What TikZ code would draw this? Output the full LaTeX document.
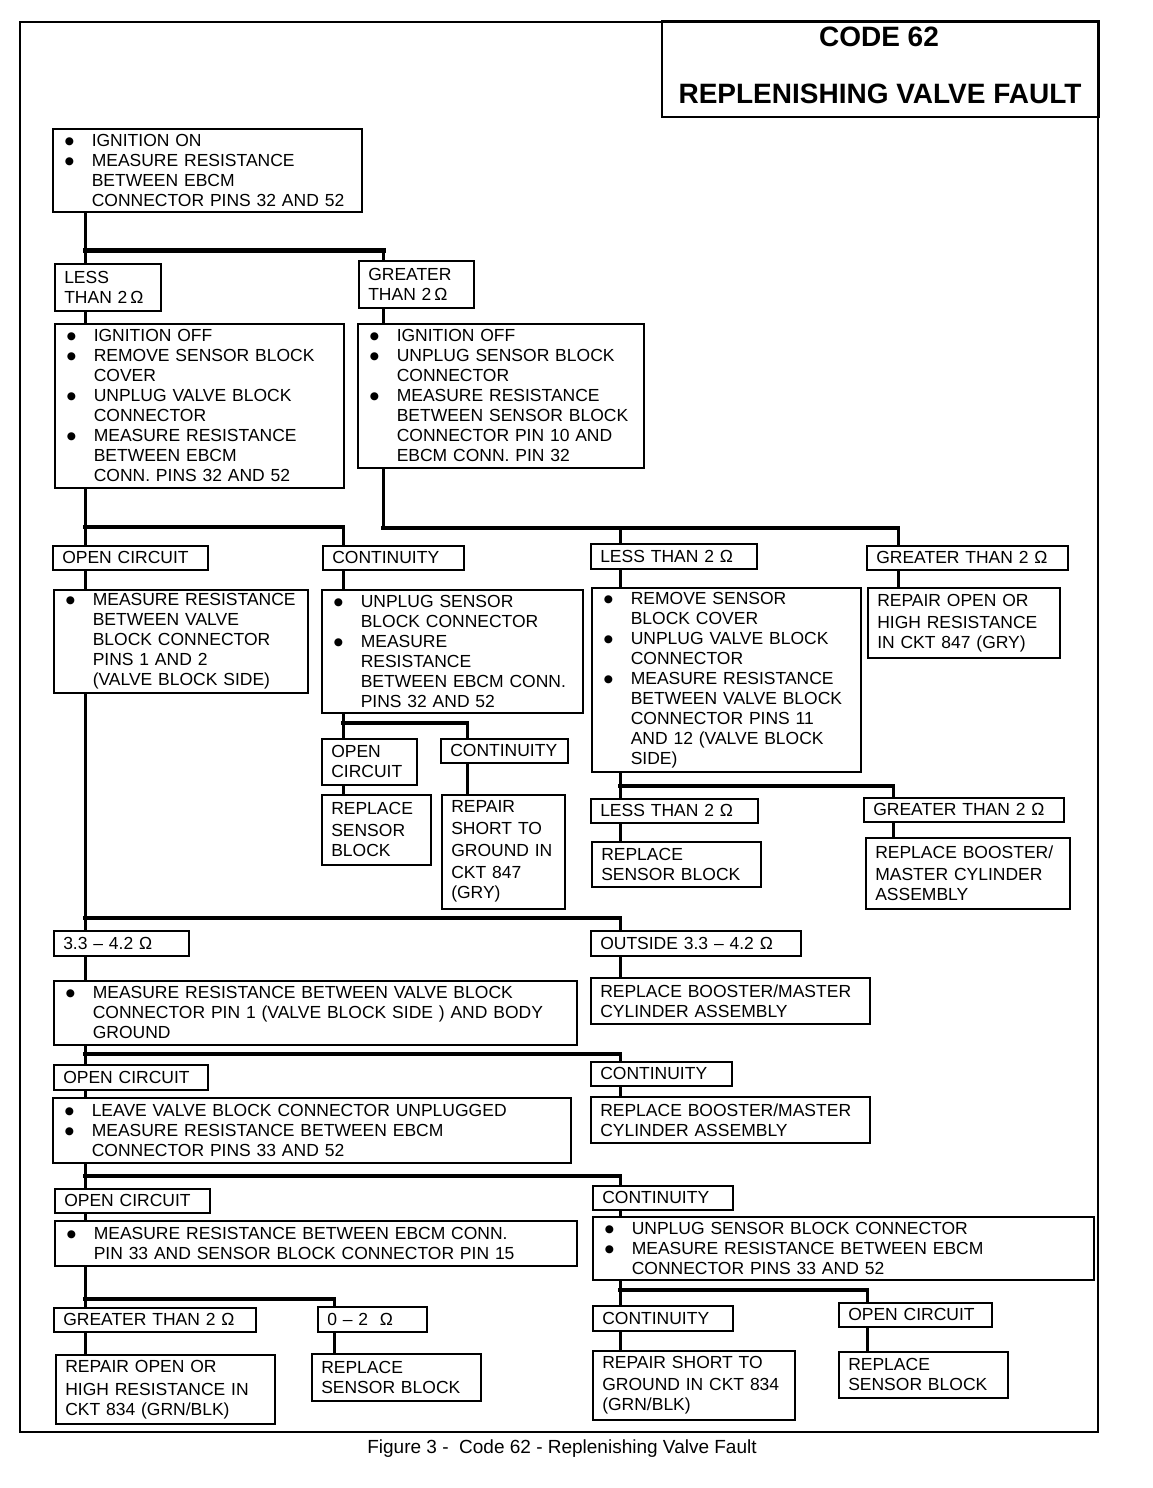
\documentclass[tikz,border=0pt]{standalone}
\usepackage{fontspec}
\setmainfont{Liberation Sans}
\newfontfamily\djv{DejaVu Sans}
\newcommand\myb{\makebox[27pt][l]{\raisebox{1.8pt}{\fontsize{10.5}{10.5}\djv ●}}}
\newcommand\myi{\hspace*{27pt}}
\newcommand\om{Ω}
\newcommand\lsp[1]{\fontsize{17.5}{#1}\selectfont}
\tikzset{
  box/.style={draw,line width=1.5pt,inner ysep=0pt,align=left,anchor=north west,
    font=\fontsize{17.5}{20}\selectfont},
  vline/.style={line width=3pt},
  hbar/.style={line width=4.2pt,line cap=rect},
}
% \bx[xsep]{name}{x1}{y1}{x2}{y2}{text}
\newcommand\bx[7][9.5]{%
  \pgfmathsetmacro\bxw{#5-#3}%
  \pgfmathsetmacro\bxh{#6-#4}%
  \pgfmathsetmacro\bxt{#5-#3-2*#1}%
  \node[box,inner xsep=#1pt,minimum width=\bxw pt,minimum height=\bxh pt,text width=\bxt pt] (#2) at (#3,#4) {#7};}
\begin{document}
\begin{tikzpicture}[x=1pt,y=-1pt]
\useasboundingbox (0,0) rectangle (1152,1488);
\fill[white] (0,0) rectangle (1152,1488);
% frame and title
\draw[line width=1.5pt] (20,22) rectangle (1098,1432);
\node[draw,line width=1.5pt,anchor=north west,minimum width=437pt,minimum height=96pt,inner sep=0pt] (TT) at (661,20) {};
\node[font=\fontsize{28}{34}\selectfont\bfseries] (T1) at (879,37) {CODE 62};
\node[font=\fontsize{28}{34}\selectfont\bfseries] (T2) at (880,94) {REPLENISHING VALVE FAULT};
% boxes
\bx[12]{B1}{52}{128}{361}{211}{\myb IGNITION ON\\\myb MEASURE RESISTANCE\\\myi BETWEEN EBCM\\\myi CONNECTOR PINS 32 AND 52}
\bx{LT}{54}{263}{160}{310}{\lsp{24}LESS\\THAN 2\,\om}
\bx{GT}{358}{260}{473}{307}{\lsp{24}GREATER\\THAN 2\,\om}
\bx[12]{B2}{54}{323}{343}{487}{\myb IGNITION OFF\\\myb REMOVE SENSOR BLOCK\\\myi COVER\\\myb UNPLUG VALVE BLOCK\\\myi CONNECTOR\\\myb MEASURE RESISTANCE\\\myi BETWEEN EBCM\\\myi CONN. PINS 32 AND 52}
\bx[12]{B3}{357}{323}{643}{467}{\myb IGNITION OFF\\\myb UNPLUG SENSOR BLOCK\\\myi CONNECTOR\\\myb MEASURE RESISTANCE\\\myi BETWEEN SENSOR BLOCK\\\myi CONNECTOR PIN 10 AND\\\myi EBCM CONN. PIN 32}
\bx{L1}{52}{545}{207}{569}{OPEN CIRCUIT}
\bx{C1}{322}{545}{463}{569}{CONTINUITY}
\bx{L2}{590}{543}{756}{568}{LESS THAN 2 \om}
\bx{G2}{866}{545}{1067}{569}{GREATER THAN 2 \om}
\bx[12]{B4}{53}{589}{307}{692}{\myb MEASURE RESISTANCE\\\myi BETWEEN VALVE\\\myi BLOCK CONNECTOR\\\myi PINS 1 AND 2\\\myi (VALVE BLOCK SIDE)}
\bx[12]{B5}{321}{589}{582}{712}{\myb UNPLUG SENSOR\\\myi BLOCK CONNECTOR\\\myb MEASURE\\\myi RESISTANCE\\\myi BETWEEN EBCM CONN.\\\myi PINS 32 AND 52}
\bx[12]{B6}{591}{587}{860}{771}{\myb REMOVE SENSOR\\\myi BLOCK COVER\\\myb UNPLUG VALVE BLOCK\\\myi CONNECTOR\\\myb MEASURE RESISTANCE\\\myi BETWEEN VALVE BLOCK\\\myi CONNECTOR PINS 11\\\myi AND 12 (VALVE BLOCK\\\myi SIDE)}
\bx{B7}{867}{587}{1059}{657}{\lsp{22}REPAIR OPEN OR\\HIGH RESISTANCE\\IN CKT 847 (GRY)}
\bx{O3}{321}{738}{416}{784}{\lsp{22}OPEN\\CIRCUIT}
\bx{C3}{440}{738}{567}{762}{CONTINUITY}
\bx{R3}{321}{794}{430}{864}{\lsp{22}REPLACE\\SENSOR\\BLOCK}
\bx{R4}{441}{794}{564}{908}{\lsp{22}REPAIR\\SHORT TO\\GROUND IN\\CKT 847\\(GRY)}
\bx{L5}{590}{798}{757}{822}{LESS THAN 2 \om}
\bx{G5}{863}{797}{1063}{821}{GREATER THAN 2 \om}
\bx{R5}{591}{841}{760}{886}{\lsp{22}REPLACE\\SENSOR BLOCK}
\bx{R6}{865}{837}{1069}{908}{\lsp{22.5}REPLACE BOOSTER/\\MASTER CYLINDER\\ASSEMBLY}
\bx{K1}{53}{930}{188}{955}{3.3 – 4.2 \om}
\bx{K2}{590}{930}{800}{955}{OUTSIDE 3.3 – 4.2 \om}
\bx[12]{B8}{53}{980}{576}{1044}{\myb MEASURE RESISTANCE BETWEEN VALVE BLOCK\\\myi CONNECTOR PIN 1 (VALVE BLOCK SIDE ) AND BODY\\\myi GROUND}
\bx{R7}{590}{977}{869}{1023}{\lsp{23}REPLACE BOOSTER/MASTER\\CYLINDER ASSEMBLY}
\bx{O8}{53}{1064}{207}{1089}{OPEN CIRCUIT}
\bx{C8}{590}{1061}{731}{1085}{CONTINUITY}
\bx[12]{B9}{52}{1097}{570}{1162}{\myb LEAVE VALVE BLOCK CONNECTOR UNPLUGGED\\\myb MEASURE RESISTANCE BETWEEN EBCM\\\myi CONNECTOR PINS 33 AND 52}
\bx{R8}{590}{1096}{869}{1142}{\lsp{23}REPLACE BOOSTER/MASTER\\CYLINDER ASSEMBLY}
\bx{O9}{54}{1188}{209}{1212}{OPEN CIRCUIT}
\bx{C9}{592}{1185}{732}{1209}{CONTINUITY}
\bx[12]{B10}{54}{1220}{576}{1265}{\myb MEASURE RESISTANCE BETWEEN EBCM CONN.\\\myi PIN 33 AND SENSOR BLOCK CONNECTOR PIN 15}
\bx[12]{B11}{592}{1216}{1093}{1279}{\myb UNPLUG SENSOR BLOCK CONNECTOR\\\myb MEASURE RESISTANCE BETWEEN EBCM\\\myi CONNECTOR PINS 33 AND 52}
\bx{G10}{53}{1307}{255}{1331}{GREATER THAN 2 \om}
\bx{Z10}{317}{1306}{426}{1331}{0 – 2 \ \om}
\bx{R10}{55}{1354}{274}{1423}{\lsp{23}REPAIR OPEN OR\\HIGH RESISTANCE IN\\CKT 834 (GRN/BLK)}
\bx{R11}{311}{1353}{480}{1400}{\lsp{23}REPLACE\\SENSOR BLOCK}
\bx{C11}{592}{1305}{732}{1330}{CONTINUITY}
\bx{O11}{838}{1302}{991}{1326}{OPEN CIRCUIT}
\bx{R12}{592}{1350}{794}{1419}{\lsp{22.5}REPAIR SHORT TO\\GROUND IN CKT 834\\(GRN/BLK)}
\bx{R13}{838}{1351}{1007}{1397}{\lsp{23}REPLACE\\SENSOR BLOCK}
\node[font=\fontsize{19}{22}\selectfont] (CAP) at (562,1449) {Figure 3 -\ \ Code 62 - Replenishing Valve Fault};
% trunk x positions
\coordinate (xa) at (85,0);
\coordinate (xb) at (383,0);
\coordinate (xc) at (343,0);
\coordinate (xd) at (467,0);
\coordinate (xe) at (620,0);
\coordinate (xf) at (898,0);
\coordinate (xg) at (893,0);
\coordinate (xh) at (334,0);
\coordinate (xi) at (867,0);
% junctions
\coordinate (j1a) at (85,250);  \coordinate (j1b) at (383,250);
\coordinate (j2a) at (85,527);  \coordinate (j2c) at (343,527);
\coordinate (j3b) at (383,528); \coordinate (j3e) at (620,528); \coordinate (j3f) at (898,528);
\coordinate (j4c) at (343,723); \coordinate (j4d) at (467,723);
\coordinate (j5e) at (620,786); \coordinate (j5g) at (893,786);
\coordinate (j6a) at (85,918);  \coordinate (j6e) at (620,918);
\coordinate (j7a) at (85,1054); \coordinate (j7e) at (620,1054);
\coordinate (j8a) at (85,1176); \coordinate (j8e) at (620,1176);
\coordinate (j9a) at (85,1299); \coordinate (j9h) at (334,1299);
\coordinate (j10e) at (620,1290); \coordinate (j10i) at (867,1290);
% connectors
\draw[vline] (B1.south -| xa) -- (j1a) -- (LT.north -| xa);
\draw[hbar,line width=5pt] (j1a) -- (j1b);
\draw[vline] (j1b) -- (GT.north -| xb);
\draw[vline] (LT.south -| xa) -- (B2.north -| xa);
\draw[vline] (GT.south -| xb) -- (B3.north -| xb);
\draw[vline] (B2.south -| xa) -- (L1.north -| xa);
\draw[hbar] (j2a) -- (j2c);
\draw[vline] (j2c) -- (C1.north -| xc);
\draw[vline] (B3.south -| xb) -- (j3b);
\draw[hbar] (j3b) -- (j3f);
\draw[vline] (j3e) -- (L2.north -| xe);
\draw[vline] (j3f) -- (G2.north -| xf);
\draw[vline] (L1.south -| xa) -- (B4.north -| xa);
\draw[vline] (C1.south -| xc) -- (B5.north -| xc);
\draw[vline] (L2.south -| xe) -- (B6.north -| xe);
\draw[vline] (G2.south -| xf) -- (B7.north -| xf);
\draw[vline] (B5.south -| xc) -- (O3.north -| xc);
\draw[hbar] (j4c) -- (j4d);
\draw[vline] (j4d) -- (C3.north -| xd);
\draw[vline] (O3.south -| xc) -- (R3.north -| xc);
\draw[vline] (C3.south -| xd) -- (R4.north -| xd);
\draw[vline] (B6.south -| xe) -- (L5.north -| xe);
\draw[hbar] (j5e) -- (j5g);
\draw[vline] (j5g) -- (G5.north -| xg);
\draw[vline] (L5.south -| xe) -- (R5.north -| xe);
\draw[vline] (G5.south -| xg) -- (R6.north -| xg);
\draw[vline] (B4.south -| xa) -- (K1.north -| xa);
\draw[hbar] (j6a) -- (j6e);
\draw[vline] (j6e) -- (K2.north -| xe);
\draw[vline] (K1.south -| xa) -- (B8.north -| xa);
\draw[vline] (K2.south -| xe) -- (R7.north -| xe);
\draw[vline] (B8.south -| xa) -- (O8.north -| xa);
\draw[hbar] (j7a) -- (j7e);
\draw[vline] (j7e) -- (C8.north -| xe);
\draw[vline] (O8.south -| xa) -- (B9.north -| xa);
\draw[vline] (C8.south -| xe) -- (R8.north -| xe);
\draw[vline] (B9.south -| xa) -- (O9.north -| xa);
\draw[hbar] (j8a) -- (j8e);
\draw[vline] (j8e) -- (C9.north -| xe);
\draw[vline] (O9.south -| xa) -- (B10.north -| xa);
\draw[vline] (C9.south -| xe) -- (B11.north -| xe);
\draw[vline] (B10.south -| xa) -- (G10.north -| xa);
\draw[hbar] (j9a) -- (j9h);
\draw[vline] (j9h) -- (Z10.north -| xh);
\draw[vline] (G10.south -| xa) -- (R10.north -| xa);
\draw[vline] (Z10.south -| xh) -- (R11.north -| xh);
\draw[vline] (B11.south -| xe) -- (C11.north -| xe);
\draw[hbar] (j10e) -- (j10i);
\draw[vline] (j10i) -- (O11.north -| xi);
\draw[vline] (C11.south -| xe) -- (R12.north -| xe);
\draw[vline] (O11.south -| xi) -- (R13.north -| xi);
\end{tikzpicture}
\end{document}
